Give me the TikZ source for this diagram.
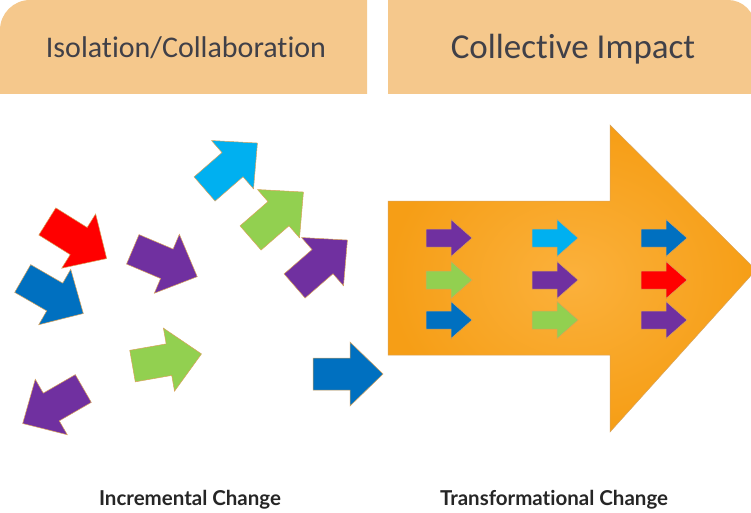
\documentclass[tikz,border=0pt]{standalone}
\usepackage{fontspec}
\setmainfont{Carlito}[Ligatures=NoCommon, Contextuals=NoAlternate]
\newfontfamily\labfont{Lato}[Ligatures=NoCommon]
\definecolor{hdr}{HTML}{F5C88C}
\definecolor{hdrtext}{HTML}{404048}
\definecolor{opurple}{HTML}{7030A0}
\definecolor{ogreen}{HTML}{92D050}
\definecolor{oblue}{HTML}{0070C0}
\definecolor{ocyan}{HTML}{00B0F0}
\definecolor{ored}{HTML}{FF0000}
\definecolor{bigdark}{HTML}{F69E16}
\definecolor{biglight}{HTML}{FBB13C}
\definecolor{arwedge}{HTML}{D9A35A}
\tikzset{
  arwline/.style={draw=arwedge, line width=0.5pt, line join=miter},
  hdrbox/.style={fill=hdr, draw=none},
  hdrlabel/.style={text=hdrtext, anchor=base, inner sep=0pt},
  botlabel/.style={text=black!85, anchor=base, inner sep=0pt, font=\labfont\bfseries\fontsize{20.5}{24}\selectfont},
}
% scattered arrow: centre x, centre y, angle, colour
\newcommand\bigarw[4]{%
  \path[arwline, fill=#4, shift={(#1,#2)}, rotate=#3]
    (-35,-16) -- (2,-16) -- (2,-32) -- (35,0) -- (2,32) -- (2,16) -- (-35,16) -- cycle;}
% small arrow inside the big one
\newcommand\smallarw[3]{%
  \path[arwline, fill=#3, shift={(#1,#2)}]
    (-23,-9) -- (2,-9) -- (2,-18.5) -- (23,0) -- (2,18.5) -- (2,9) -- (-23,9) -- cycle;}
\begin{document}
\begin{tikzpicture}[x=1pt, y=-1pt]
\useasboundingbox (0,0) rectangle (751,513);
\fill[white] (0,0) rectangle (751,513);

% header boxes
\path[hdrbox] (0,94) -- (0,30) arc[start angle=180, end angle=270, radius=30] -- (367,0) -- (367,94) -- cycle;
\path[hdrbox] (388,94) -- (388,0) -- (728,0) arc[start angle=270, end angle=360, radius=27] -- (755,94) -- cycle;
\node[hdrlabel, font=\fontsize{30}{34}\selectfont] (h1) at (186,58) {Isolation/Collaboration};
\node[hdrlabel, font=\fontsize{35}{40}\selectfont] (h2) at (573,59) {Collective Impact};

% big orange arrow
\shade[inner color=biglight, outer color=bigdark, draw=arwedge, line width=0.5pt]
  (388,201) -- (610,201) -- (610,125) -- (756,270) -- (610,432) -- (610,355) -- (388,355) -- cycle;

% small arrows inside
\smallarw{449}{238}{opurple}
\smallarw{449}{280}{ogreen}
\smallarw{449}{320}{oblue}
\smallarw{555}{238}{ocyan}
\smallarw{555}{280}{opurple}
\smallarw{555}{320}{ogreen}
\smallarw{664}{238}{oblue}
\smallarw{664}{280}{ored}
\smallarw{664}{320}{opurple}

% scattered arrows
\bigarw{231}{166}{41}{ocyan}
\bigarw{277}{215}{41}{ogreen}
\bigarw{321}{263}{41}{opurple}
\bigarw{77}{240}{-32}{ored}
\bigarw{53}{296}{-30}{oblue}
\bigarw{165}{263}{-23}{opurple}
\bigarw{167}{360}{10}{ogreen}
\bigarw{53}{406}{210}{opurple}
\bigarw{348}{374}{0}{oblue}

% bottom labels
\node[botlabel] (l1) at (190,505) {Incremental Change};
\node[botlabel] (l2) at (554,505) {Transformational Change};
\end{tikzpicture}
\end{document}
